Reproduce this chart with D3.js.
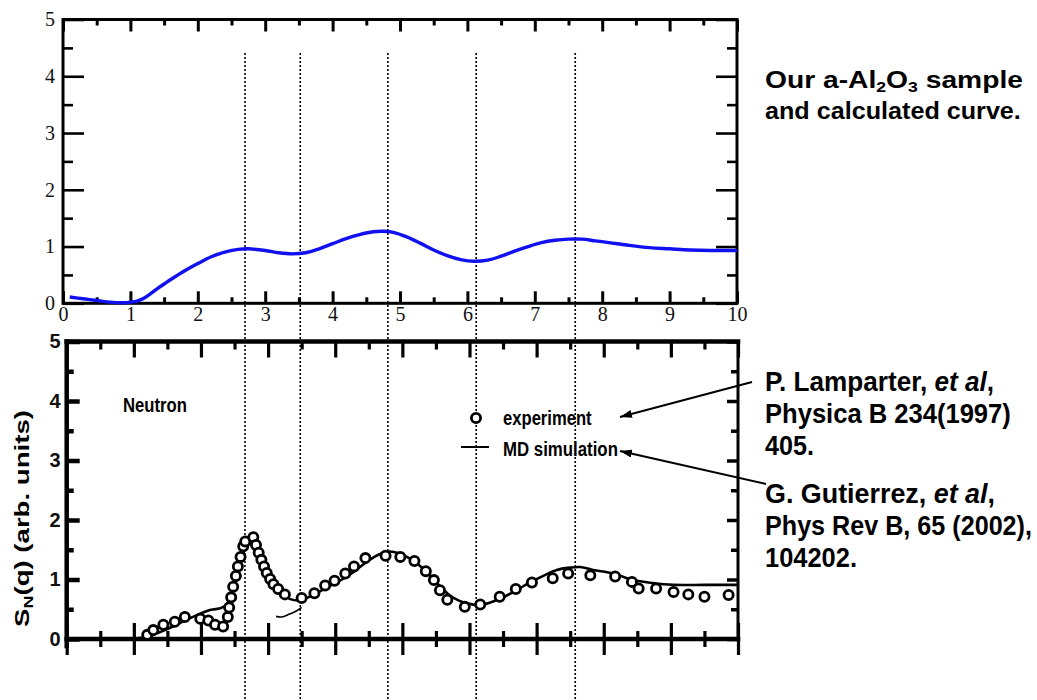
<!DOCTYPE html>
<html><head><meta charset="utf-8">
<script src="https://cdn.jsdelivr.net/npm/d3@7"></script>
<style>body{margin:0;background:#fff}svg{display:block;background:#fff}</style>
</head><body>
<svg id="c" width="1037" height="700"></svg>
<script>
// ---------- data ----------
const qTop = [0.1,0.3,0.5,0.7,0.9,1.0,1.1,1.2,1.3,1.4,1.5,1.6,1.8,2.0,2.2,2.4,2.6,2.75,3.0,3.2,3.4,3.6,3.8,4.0,4.2,4.4,4.6,4.75,4.9,5.1,5.3,5.5,5.7,5.9,6.1,6.3,6.5,6.7,6.9,7.1,7.3,7.5,7.7,7.9,8.1,8.4,8.7,9.0,9.3,9.6,10.0];
const sTop = [0.11,0.08,0.05,0.02,0.01,0.02,0.04,0.09,0.17,0.26,0.34,0.42,0.57,0.70,0.82,0.90,0.95,0.96,0.93,0.89,0.87,0.89,0.96,1.05,1.14,1.21,1.26,1.27,1.25,1.17,1.06,0.94,0.84,0.77,0.74,0.76,0.83,0.92,1.00,1.07,1.11,1.13,1.13,1.10,1.07,1.02,0.98,0.96,0.94,0.93,0.93];

const expQ = [1.20,1.29,1.44,1.61,1.76,1.99,2.11,2.21,2.33,2.40,2.42,2.45,2.48,2.52,2.55,2.59,2.63,2.66,2.78,2.82,2.86,2.90,2.94,2.98,3.03,3.08,3.15,3.25,3.50,3.69,3.85,3.99,4.15,4.28,4.45,4.75,4.97,5.18,5.35,5.47,5.56,5.67,5.93,6.16,6.45,6.69,6.93,7.24,7.47,7.80,8.17,8.42,8.52,8.78,9.04,9.26,9.50,9.86];
const expS = [0.07,0.15,0.24,0.29,0.37,0.34,0.31,0.24,0.21,0.37,0.53,0.70,0.88,1.06,1.22,1.38,1.56,1.64,1.71,1.58,1.45,1.33,1.22,1.11,1.01,0.92,0.84,0.75,0.69,0.77,0.90,0.98,1.10,1.22,1.36,1.40,1.38,1.31,1.14,0.99,0.82,0.66,0.54,0.58,0.71,0.84,0.95,1.02,1.10,1.07,1.05,0.96,0.85,0.85,0.79,0.75,0.71,0.74];

const mdQ = [1.00,1.20,1.40,1.60,1.80,2.00,2.15,2.30,2.38,2.46,2.53,2.61,2.68,2.76,2.81,2.88,2.98,3.08,3.20,3.33,3.48,3.70,3.90,4.10,4.30,4.50,4.65,4.80,4.95,5.10,5.25,5.40,5.55,5.70,5.85,6.00,6.15,6.30,6.50,6.70,6.90,7.10,7.30,7.50,7.65,7.84,8.14,8.44,8.73,9.03,9.50,10.0];
const mdS = [0.00,0.04,0.12,0.22,0.33,0.43,0.49,0.52,0.58,0.76,1.04,1.38,1.56,1.68,1.60,1.32,1.10,0.94,0.76,0.67,0.65,0.76,0.88,1.00,1.15,1.32,1.42,1.47,1.44,1.36,1.24,1.08,0.90,0.74,0.64,0.59,0.57,0.61,0.70,0.82,0.95,1.06,1.16,1.20,1.21,1.16,1.10,0.99,0.94,0.91,0.91,0.91];

const fragQ = [3.12,3.20,3.32,3.42,3.50];
const fragS = [0.38,0.37,0.42,0.47,0.53];

const guideQ = [2.70,3.52,4.82,6.13,7.60];

const xMajor = [0,1,2,3,4,5,6,7,8,9,10];
const xMinor = [0.5,1.5,2.5,3.5,4.5,5.5,6.5,7.5,8.5,9.5];
const yMajor = [0,1,2,3,4,5];
const yMinor = [0.5,1.5,2.5,3.5,4.5];

// ---------- setup ----------
const svg = d3.select("#c");
const SANS = "'Liberation Sans', Arial, Helvetica, sans-serif";
const SERIF = "'Liberation Serif', 'Times New Roman', serif";

const xTop = d3.scaleLinear().domain([0,10]).range([63,737]);
const yTop = d3.scaleLinear().domain([0,5]).range([303.3,19.5]);
const xBot = d3.scaleLinear().domain([0,10]).range([66.7,738]);
const yBot = d3.scaleLinear().domain([0,5]).range([639,341.5]);

function styleAxis(g, sw, font, size, weight) {
  g.select(".domain").remove();
  g.selectAll(".tick line").attr("stroke","#000").attr("stroke-width",sw);
  g.selectAll(".tick text").attr("fill","#111").attr("font-family",font).attr("font-size",size).attr("font-weight",weight||"normal");
}
function axisG(axis, tx, ty, sw, font, size, weight) {
  const g = svg.append("g").attr("transform",`translate(${tx},${ty})`).call(axis);
  styleAxis(g, sw, font, size, weight);
  return g;
}

// ---------- guide dotted lines ----------
svg.append("g").selectAll("line").data(guideQ).join("line")
  .attr("x1", d=>xTop(d)).attr("x2", d=>xTop(d))
  .attr("y1", 53).attr("y2", 700)
  .attr("stroke","#000").attr("stroke-width",1.6).attr("stroke-dasharray","2,2");

// ---------- top panel ----------
axisG(d3.axisBottom(xTop).tickValues(xMajor).tickSizeInner(-12).tickSizeOuter(0).tickPadding(3).tickFormat(d3.format("d")), 0, yTop(0), 3, SERIF, 20);
axisG(d3.axisBottom(xTop).tickValues(xMinor).tickSizeInner(-6).tickSizeOuter(0).tickFormat(""), 0, yTop(0), 3, SERIF, 20);
axisG(d3.axisTop(xTop).tickValues(xMajor).tickSizeInner(-12).tickSizeOuter(0).tickFormat(""), 0, yTop(5), 3, SERIF, 20);
axisG(d3.axisTop(xTop).tickValues(xMinor).tickSizeInner(-6).tickSizeOuter(0).tickFormat(""), 0, yTop(5), 3, SERIF, 20);
axisG(d3.axisLeft(yTop).tickValues(yMajor).tickSizeInner(-21).tickSizeOuter(0).tickPadding(8).tickFormat(d3.format("d")), xTop(0), 0, 2.6, SERIF, 20);
axisG(d3.axisLeft(yTop).tickValues(yMinor).tickSizeInner(-10).tickSizeOuter(0).tickFormat(""), xTop(0), 0, 2.6, SERIF, 20);
axisG(d3.axisRight(yTop).tickValues(yMajor).tickSizeInner(-21).tickSizeOuter(0).tickFormat(""), xTop(10), 0, 2.6, SERIF, 20);
axisG(d3.axisRight(yTop).tickValues(yMinor).tickSizeInner(-10).tickSizeOuter(0).tickFormat(""), xTop(10), 0, 2.6, SERIF, 20);

svg.append("rect").attr("x",xTop(0)).attr("y",yTop(5))
  .attr("width",xTop(10)-xTop(0)).attr("height",yTop(0)-yTop(5))
  .attr("fill","none").attr("stroke","#000").attr("stroke-width",3);

const topData = qTop.map((q,i)=>[q,sTop[i]]);
svg.append("path").datum(topData)
  .attr("d", d3.line().x(d=>xTop(d[0])).y(d=>yTop(d[1])).curve(d3.curveCatmullRom))
  .attr("fill","none").attr("stroke","#1010f0").attr("stroke-width",3.4);

// ---------- bottom panel ----------
axisG(d3.axisTop(xBot).tickValues(xMajor).tickSizeInner(32).tickSizeOuter(0).tickFormat(""), 0, yBot(0)+16, 3.2, SANS, 18);
axisG(d3.axisTop(xBot).tickValues(xMinor).tickSizeInner(16).tickSizeOuter(0).tickFormat(""), 0, yBot(0)+8, 3.2, SANS, 18);
axisG(d3.axisTop(xBot).tickValues(xMajor).tickSizeInner(-16).tickSizeOuter(0).tickFormat(""), 0, yBot(5), 3.2, SANS, 18);
axisG(d3.axisTop(xBot).tickValues(xMinor).tickSizeInner(-8).tickSizeOuter(0).tickFormat(""), 0, yBot(5), 3.2, SANS, 18);
axisG(d3.axisLeft(yBot).tickValues(yMajor).tickSizeInner(-13).tickSizeOuter(0).tickPadding(6).tickFormat(d3.format("d")), xBot(0), 0, 4.5, SANS, 20, "bold");
axisG(d3.axisLeft(yBot).tickValues(yMinor).tickSizeInner(-7).tickSizeOuter(0).tickFormat(""), xBot(0), 0, 4.5, SANS, 20);
axisG(d3.axisRight(yBot).tickValues(yMajor).tickSizeInner(-11).tickSizeOuter(0).tickFormat(""), xBot(10), 0, 3.5, SANS, 20);
axisG(d3.axisRight(yBot).tickValues(yMinor).tickSizeInner(-7).tickSizeOuter(0).tickFormat(""), xBot(10), 0, 3.5, SANS, 20);

// frame
const fr = svg.append("g").attr("stroke","#000").attr("stroke-linecap","square");
fr.append("line").attr("x1",xBot(0)).attr("x2",xBot(10)).attr("y1",yBot(5)).attr("y2",yBot(5)).attr("stroke-width",4.5);
fr.append("line").attr("x1",xBot(0)).attr("x2",xBot(10)).attr("y1",yBot(0)).attr("y2",yBot(0)).attr("stroke-width",4.5);
fr.append("line").attr("x1",xBot(0)).attr("x2",xBot(0)).attr("y1",yBot(5)).attr("y2",yBot(0)+7).attr("stroke-width",4.5);
fr.append("line").attr("x1",xBot(10)).attr("x2",xBot(10)).attr("y1",yBot(5)).attr("y2",yBot(0)).attr("stroke-width",3);

// MD simulation line
const mdData = mdQ.map((q,i)=>[q,mdS[i]]);
const lineB = d3.line().x(d=>xBot(d[0])).y(d=>yBot(d[1])).curve(d3.curveCatmullRom);
svg.append("path").datum(mdData).attr("d", lineB)
  .attr("fill","none").attr("stroke","#000").attr("stroke-width",2.6);
svg.append("path").datum(fragQ.map((q,i)=>[q,fragS[i]])).attr("d", lineB)
  .attr("fill","none").attr("stroke","#000").attr("stroke-width",1.6);

// experiment circles
svg.append("g").selectAll("circle").data(expQ.map((q,i)=>[q,expS[i]])).join("circle")
  .attr("cx", d=>xBot(d[0])).attr("cy", d=>yBot(d[1])).attr("r",4.6)
  .attr("fill","#fff").attr("stroke","#000").attr("stroke-width",2.8);

// ---------- text helper ----------
function fitText(parts, o) {
  const g = svg.append("g");
  const t = g.append("text").attr("font-family", o.family||SANS).attr("font-size", o.size)
    .attr("font-weight", o.weight||"bold").attr("fill", o.fill||"#000")
    .attr("text-anchor", o.anchor||"start");
  parts.forEach(p => {
    const s = t.append("tspan").text(p.t);
    if (p.size) s.attr("font-size", p.size);
    if (p.dy) s.attr("dy", p.dy);
    if (p.italic) s.attr("font-style","italic");
  });
  const bw = t.node().getBBox().width;
  const sx = o.w ? o.w / bw : 1;
  g.attr("transform", `translate(${o.x},${o.y}) rotate(${o.rot||0}) scale(${sx},1)`);
  return g;
}

// in-plot labels
fitText([{t:"Neutron"}], {x:123, y:412, size:21, w:64});
fitText([{t:"S"},{t:"N",size:13,dy:4},{t:"(q)  (arb. units)",dy:-4}], {x:29, y:518.5, size:20, w:217, anchor:"middle", rot:-90});

// legend
svg.append("circle").attr("cx",476).attr("cy",418).attr("r",4.6).attr("fill","#fff").attr("stroke","#000").attr("stroke-width",2.8);
svg.append("line").attr("x1",461).attr("x2",489).attr("y1",447).attr("y2",447).attr("stroke","#000").attr("stroke-width",2);
fitText([{t:"experiment"}], {x:503, y:425, size:20, w:89});
fitText([{t:"MD simulation"}], {x:503, y:456, size:21, w:115});

// arrows
const defs = svg.append("defs");
defs.append("marker").attr("id","ah").attr("viewBox","0 0 12 8").attr("refX",12).attr("refY",4)
  .attr("markerWidth",12).attr("markerHeight",8).attr("markerUnits","userSpaceOnUse").attr("orient","auto")
  .append("path").attr("d","M0,0 L12,4 L0,8 Z").attr("fill","#000");
svg.append("line").attr("x1",752).attr("y1",382).attr("x2",620).attr("y2",417)
  .attr("stroke","#000").attr("stroke-width",2).attr("marker-end","url(#ah)");
svg.append("line").attr("x1",766).attr("y1",484).attr("x2",620).attr("y2",451)
  .attr("stroke","#000").attr("stroke-width",2).attr("marker-end","url(#ah)");

// right-side annotations
fitText([{t:"Our a-Al"},{t:"2",size:15,dy:4},{t:"O",dy:-4},{t:"3",size:15,dy:4},{t:" sample",dy:-4}], {x:765, y:88, size:24, w:258});
fitText([{t:"and calculated curve."}], {x:765, y:119, size:24, w:256});

fitText([{t:"P. Lamparter, "},{t:"et al",italic:true},{t:","}], {x:765, y:391, size:28, w:229});
fitText([{t:"Physica B 234(1997)"}], {x:765, y:423, size:28, w:246});
fitText([{t:"405."}], {x:765, y:455, size:28, w:49});
fitText([{t:"G. Gutierrez, "},{t:"et al",italic:true},{t:","}], {x:765, y:503, size:28, w:230});
fitText([{t:"Phys Rev B, 65 (2002),"}], {x:765, y:535, size:28, w:267});
fitText([{t:"104202."}], {x:765, y:567, size:28, w:92});
</script>
</body></html>
